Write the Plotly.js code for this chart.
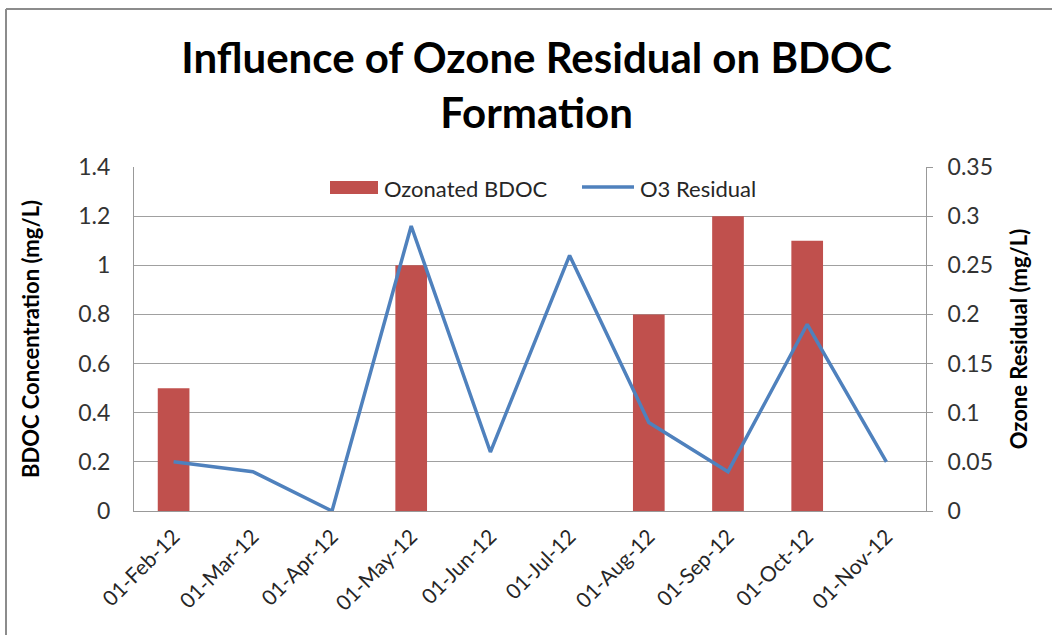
<!DOCTYPE html>
<html>
<head>
<meta charset="utf-8">
<script src="https://cdn.plot.ly/plotly-3.0.1.min.js"></script>
<style>
html,body{margin:0;padding:0;background:#fff;}
#chart{width:1052px;height:635px;}
</style>
</head>
<body>
<div id="chart"></div>
<script>
const categories = ["01-Feb-12","01-Mar-12","01-Apr-12","01-May-12","01-Jun-12","01-Jul-12","01-Aug-12","01-Sep-12","01-Oct-12","01-Nov-12"];
const bdoc = [0.5, null, null, 1.0, null, null, 0.8, 1.2, 1.1, null];
const o3Residual = [0.05, 0.04, 0.0, 0.29, 0.06, 0.26, 0.09, 0.04, 0.19, 0.05];
const leftTicks = [0, 0.2, 0.4, 0.6, 0.8, 1, 1.2, 1.4];
const rightTicks = [0, 0.05, 0.1, 0.15, 0.2, 0.25, 0.3, 0.35];
const seriesNames = ['Ozonated BDOC', 'O3 Residual'];
const seriesColors = ['#C0504D', '#4F81BD'];

const font = "Lato, 'Open Sans', sans-serif";

// plot area in pixels
const PL = 134, PR = 926, PT = 167, PB = 511;
const px = x => (x - PL) / (PR - PL);
const py = y => (PB - y) / (PB - PT);

const traces = [
  {
    type: 'bar', name: seriesNames[0], x: categories, y: bdoc,
    marker: {color: seriesColors[0]}, yaxis: 'y', showlegend: false
  },
  {
    type: 'scatter', mode: 'lines', name: seriesNames[1], x: categories, y: o3Residual,
    line: {color: seriesColors[1], width: 3.5}, yaxis: 'y2', showlegend: false
  }
];

const layout = {
  width: 1052, height: 635,
  margin: {l: PL, r: 1052 - PR, t: PT, b: 635 - PB},
  paper_bgcolor: '#fff', plot_bgcolor: '#fff',
  bargap: 0.6,
  showlegend: false,
  title: {
    text: 'Influence of Ozone Residual on BDOC<br>Formation',
    font: {family: font, size: 42, color: '#000', weight: 'bold'},
    x: 0.51, xanchor: 'center', yref: 'container', y: 0.885, yanchor: 'top'
  },
  xaxis: {
    type: 'category',
    tickangle: -45,
    tickfont: {family: font, size: 21, color: '#262626'},
    showgrid: false, showline: true, linecolor: '#999', linewidth: 1,
    ticks: '', zeroline: false, ticklabelstandoff: 4
  },
  yaxis: {
    range: [0, 1.4], tickvals: leftTicks, ticktext: leftTicks.map(String),
    showgrid: true, gridcolor: '#a0a0a0', gridwidth: 1,
    showline: true, linecolor: '#999', linewidth: 1, zeroline: false,
    ticks: '', tickfont: {family: font, size: 23, color: '#333'},
    ticklabelstandoff: 18,
    title: {text: 'BDOC Concentration (mg/L)', font: {family: font, size: 22, color: '#000', weight: 'bold'}, standoff: 32}
  },
  yaxis2: {
    range: [0, 0.35], tickvals: rightTicks, ticktext: rightTicks.map(String),
    overlaying: 'y', side: 'right',
    showgrid: false, showline: true, linecolor: '#999', linewidth: 1, zeroline: false,
    ticks: 'outside', ticklen: 6, tickcolor: '#999',
    tickfont: {family: font, size: 23, color: '#333'},
    ticklabelstandoff: 10,
    title: {text: 'Ozone Residual (mg/L)', font: {family: font, size: 22, color: '#000', weight: 'bold'}, standoff: 19}
  },
  shapes: [
    {type: 'line', xref: 'paper', yref: 'paper', x0: px(6), x1: px(1060), y0: py(9), y1: py(9),
     line: {color: '#8c8c8c', width: 2}},
    {type: 'line', xref: 'paper', yref: 'paper', x0: px(6), x1: px(6), y0: py(9), y1: py(640),
     line: {color: '#8c8c8c', width: 2}},
    // legend swatches
    {type: 'rect', xref: 'paper', yref: 'paper', x0: px(330), x1: px(378), y0: py(194), y1: py(181),
     line: {width: 0}, fillcolor: seriesColors[0]},
    {type: 'line', xref: 'paper', yref: 'paper', x0: px(582), x1: px(634), y0: py(187), y1: py(187),
     line: {color: seriesColors[1], width: 3.5}}
  ],
  annotations: [
    {xref: 'paper', yref: 'paper', x: px(382), y: py(188), xanchor: 'left', yanchor: 'middle',
     text: seriesNames[0], showarrow: false, font: {family: font, size: 22, color: '#262626'}},
    {xref: 'paper', yref: 'paper', x: px(638), y: py(188), xanchor: 'left', yanchor: 'middle',
     text: seriesNames[1], showarrow: false, font: {family: font, size: 22, color: '#262626'}}
  ]
};

Plotly.newPlot('chart', traces, layout, {displayModeBar: false, staticPlot: true});
</script>
</body>
</html>
